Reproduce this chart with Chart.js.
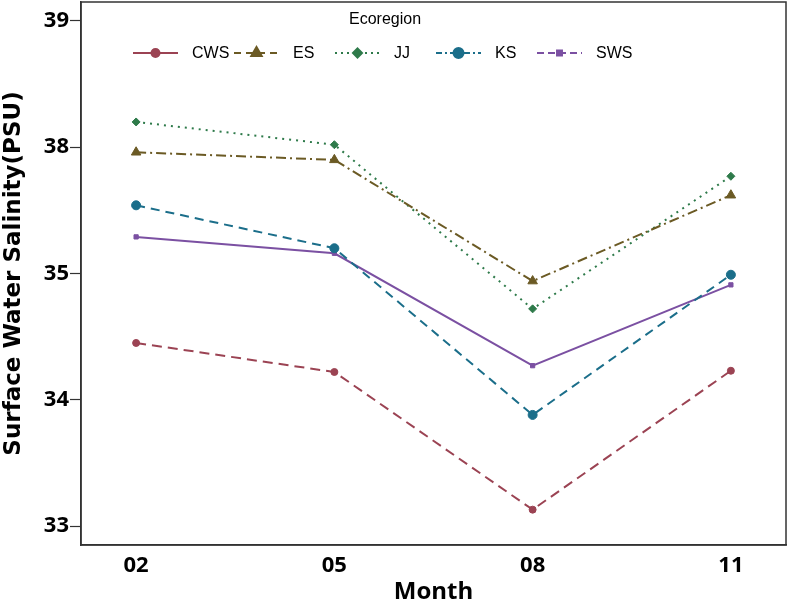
<!DOCTYPE html>
<html>
<head>
<meta charset="utf-8">
<script src="https://cdn.jsdelivr.net/npm/chart.js@4.4.1/dist/chart.umd.min.js"></script>
<style>
  html,body{margin:0;padding:0;background:#fff;}
  #wrap{width:788px;height:607px;position:relative;}
</style>
</head>
<body>
<div id="wrap"><canvas id="c" width="788" height="607"></canvas></div>
<script>
// ---- data (y in plotted-axis units) ----
const months = ['02', '05', '08', '11'];
const yTickValues = [33, 34, 35, 36, 37];
const yTickLabels = ['33', '34', '35', '38', '39'];
const seriesNames = ['CWS', 'ES', 'JJ', 'KS', 'SWS'];
const CWS = [34.45, 34.22, 33.13, 34.23];
const ES  = [35.96, 35.90, 34.94, 35.62];
const JJ  = [36.20, 36.02, 34.72, 35.77];
const KS  = [35.54, 35.20, 33.88, 34.99];
const SWS = [35.29, 35.16, 34.27, 34.91];

const colors = {CWS:'#9b4353', ES:'#6b5a24', JJ:'#2e7a4a', KS:'#1b6e8a', SWS:'#7b50a2'};
const lineDash = {CWS:[10,6], ES:[10,4,2,4], JJ:[2,5], KS:[9,6], SWS:[]};
const legendDash = {CWS:[], ES:[7,5], JJ:[2,4], KS:[6,3,2,3], SWS:[7,4]};
const markers = {CWS:['circle',3.5], ES:['triangle',5.5], JJ:['rectRot',4], KS:['circle',4.5], SWS:['rect',3]};
const values = {CWS, ES, JJ, KS, SWS};

const datasets = seriesNames.map(n => ({
  label: n,
  data: values[n].map((v, i) => ({x: i, y: v})),
  borderColor: colors[n],
  backgroundColor: colors[n],
  borderWidth: 2,
  borderDash: lineDash[n],
  pointStyle: markers[n][0],
  pointRadius: markers[n][1],
  pointBorderColor: colors[n],
  pointBackgroundColor: colors[n],
  pointBorderWidth: 1,
  tension: 0,
  fill: false
}));

const framePlugin = {
  id: 'frame',
  afterDraw(chart) {
    const {ctx, chartArea: a} = chart;
    ctx.save();
    ctx.strokeStyle = '#333';
    ctx.lineWidth = 1.5;
    ctx.strokeRect(a.left, a.top, a.right - a.left, a.bottom - a.top);
    // legend
    ctx.fillStyle = '#000';
    ctx.font = '16px "Liberation Sans", Arial, sans-serif';
    ctx.textAlign = 'center';
    ctx.textBaseline = 'middle';
    ctx.fillText('Ecoregion', a.left + 304, 20);
    const y = 53;
    seriesNames.forEach((n, i) => {
      const x0 = a.left + 52 + i * 101;
      ctx.strokeStyle = colors[n];
      ctx.lineWidth = 2;
      ctx.setLineDash(legendDash[n]);
      ctx.beginPath();
      ctx.moveTo(x0, y); ctx.lineTo(x0 + 45, y);
      ctx.stroke();
      ctx.setLineDash([]);
      Chart.helpers.drawPoint(ctx, {pointStyle: markers[n][0], radius: markers[n][1] + 0.5, rotation: 0, borderWidth: 1},
        x0 + 22.5, y);
      ctx.fillStyle = colors[n];
      ctx.fill();
      ctx.fillStyle = '#000';
      ctx.textAlign = 'left';
      ctx.fillText(n, x0 + 59, y + 1);
    });
    ctx.restore();
  }
};

new Chart(document.getElementById('c'), {
  type: 'line',
  data: {datasets},
  options: {
    responsive: false,
    animation: false,
    devicePixelRatio: 1,
    layout: {autoPadding: false, padding: {top: 2, right: 2, left: 0, bottom: 0}},
    plugins: {legend: {display: false}, tooltip: {enabled: false}},
    scales: {
      x: {
        type: 'linear',
        min: -0.278, max: 3.278,
        afterBuildTicks: s => { s.ticks = months.map((m, i) => ({value: i})); },
        afterFit: s => { s.height = 62; s.paddingLeft = 0; s.paddingRight = 0; },
        ticks: {
          autoSkip: false,
          maxRotation: 0,
          color: '#000',
          padding: 8,
          font: {family: '"Open Sans", "Noto Sans", sans-serif', size: 22, weight: 'bold'},
          callback: v => months[v] ?? ''
        },
        grid: {display: false, drawTicks: false},
        border: {display: true, color: '#333', width: 1.5},
        title: {
          display: true, text: 'Month', color: '#000',
          font: {family: '"Open Sans", "Noto Sans", sans-serif', size: 24, weight: 'bold'},
          padding: {top: 0, bottom: 0}
        }
      },
      y: {
        type: 'linear',
        min: 32.85, max: 37.15,
        afterBuildTicks: s => { s.ticks = yTickValues.map(v => ({value: v})); },
        afterFit: s => { s.width = 81; s.paddingTop = 0; s.paddingBottom = 0; },
        ticks: {
          autoSkip: false,
          color: '#000',
          padding: 1,
          font: {family: '"Open Sans", "Noto Sans", sans-serif', size: 22, weight: 'bold'},
          callback: v => { const k = yTickValues.indexOf(v); return k >= 0 ? yTickLabels[k] : ''; }
        },
        grid: {display: true, drawOnChartArea: false, drawTicks: true, tickLength: 11, color: '#333', tickWidth: 1.2},
        border: {display: true, color: '#333', width: 1.5},
        title: {
          display: true, text: 'Surface Water Salinity(PSU)', color: '#000',
          font: {family: '"DejaVu Sans", "Open Sans", sans-serif', size: 23, weight: 'bold'},
          padding: {top: 0, bottom: 0}
        }
      }
    }
  },
  plugins: [framePlugin]
});
</script>
</body>
</html>
